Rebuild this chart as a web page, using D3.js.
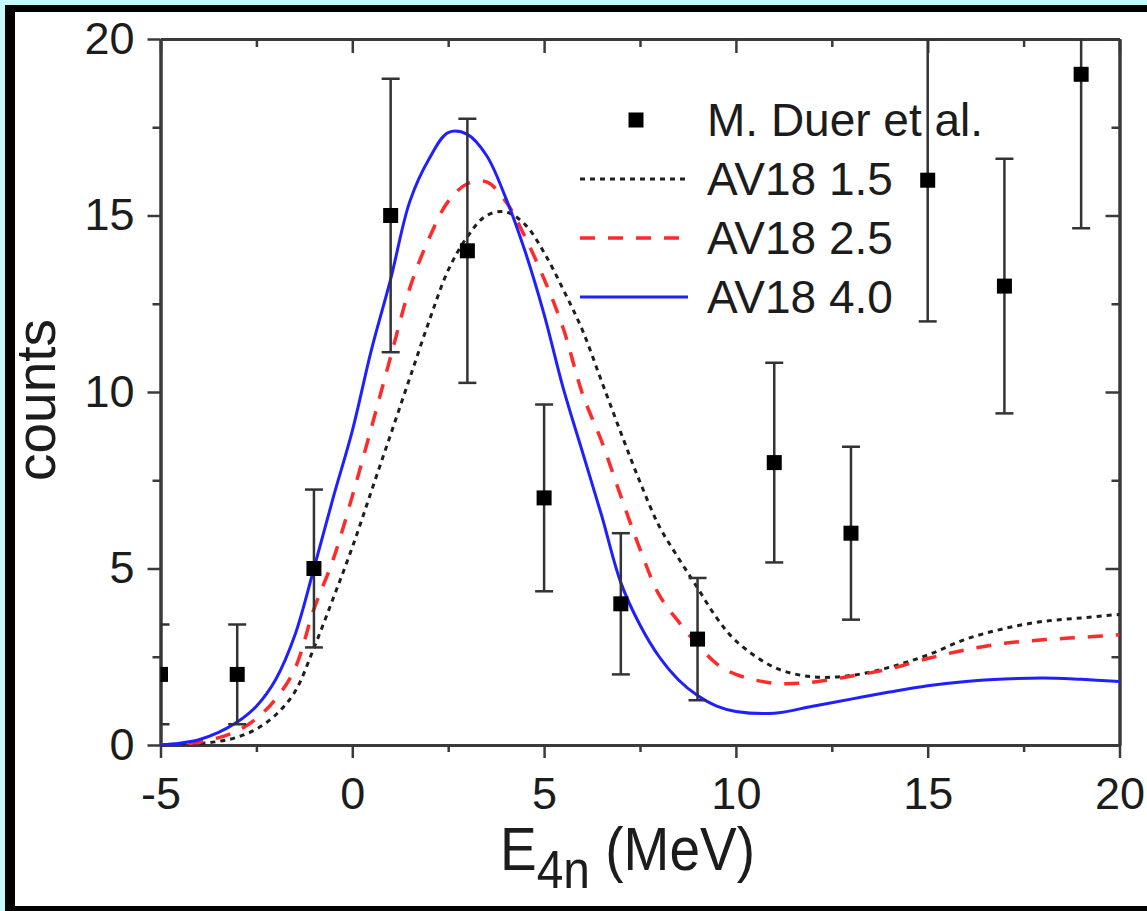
<!DOCTYPE html>
<html>
<head>
<meta charset="utf-8">
<script src="https://cdn.jsdelivr.net/npm/d3@7"></script>
<style>
  html, body { margin: 0; padding: 0; background: #c6f9fb; }
  svg { display: block; }
  text { font-family: "Liberation Sans", Arial, Helvetica, sans-serif; fill: #1c1c1c; }
</style>
</head>
<body>
<svg id="chart" width="1147" height="911"></svg>
<script>
// Measured counts per 2 MeV bin (Poisson errors, sqrt(N))
const binCenters = [-5, -3, -1, 1, 3, 5, 7, 9, 11, 13, 15, 17, 19];
const binCounts  = [2, 2, 5, 15, 14, 7, 4, 3, 8, 6, 16, 13, 19];

// Calculated spectra, AV18 with different source sizes
const energyGrid = [-5, -4.5, -4, -3.5, -3, -2.5, -2, -1.5, -1, -0.5, 0, 0.5, 1, 1.5, 2, 2.5, 3, 3.5, 4, 4.5,
                    5, 5.5, 6, 6.5, 7, 7.5, 8, 8.5, 9, 9.5, 10, 11, 12, 13, 14, 15, 16, 17, 18, 19, 20];
const av18_15 = [0, 0.01, 0.04, 0.1, 0.22, 0.45, 0.85, 1.5, 2.75, 4.15, 5.6, 7.2, 8.8, 10.4, 12.0, 13.45, 14.4, 15.0, 15.1, 14.75,
                 13.95, 12.9, 11.75, 10.3, 8.85, 7.45, 6.2, 5.3, 4.45, 3.6, 2.95, 2.2, 1.93, 1.97, 2.2, 2.55, 3.0, 3.3, 3.5, 3.6, 3.7];
const av18_25 = [0, 0.02, 0.08, 0.2, 0.4, 0.75, 1.3, 2.15, 3.85, 5.25, 7.05, 9.0, 11.0, 12.95, 14.35, 15.4, 15.9, 15.95, 15.4, 14.4,
                 13.2, 11.8, 9.95, 8.6, 7.05, 5.55, 4.25, 3.5, 2.85, 2.3, 2.0, 1.75, 1.78, 1.95, 2.15, 2.45, 2.7, 2.88, 2.98, 3.05, 3.12];
const av18_40 = [0, 0.05, 0.15, 0.35, 0.65, 1.1, 1.85, 3.1, 5.0, 7.0, 8.9, 11.2, 13.2, 15.4, 16.6, 17.35, 17.3, 16.7, 15.5, 14.0,
                 12.2, 10.1, 8.3, 6.5, 4.6, 3.4, 2.5, 1.85, 1.4, 1.1, 0.95, 0.9, 1.1, 1.3, 1.5, 1.68, 1.8, 1.87, 1.9, 1.86, 1.8];

const xMajorTicks = [-5, 0, 5, 10, 15, 20];
const xMinorTicks = [-2.5, 2.5, 7.5, 12.5, 17.5];
const yMajorTicks = [0, 5, 10, 15, 20];
const yMinorTicks = [2.5, 7.5, 12.5, 17.5];

const legendLabels = ["M. Duer et al.", "AV18 1.5", "AV18 2.5", "AV18 4.0"];

const svg = d3.select("#chart");

// page frame
svg.append("rect").attr("x", 5).attr("y", 5).attr("width", 1142).attr("height", 906).attr("fill", "#000");
svg.append("rect").attr("x", 15).attr("y", 12).attr("width", 1132).attr("height", 894).attr("fill", "#fff");

const plotL = 160.5, plotR = 1119.5, plotT = 39, plotB = 745;
const x = d3.scaleLinear().domain([-5, 20]).range([plotL, plotR]);
const y = d3.scaleLinear().domain([0, 20]).range([plotB, plotT]);

svg.append("defs").append("clipPath").attr("id", "plotClip")
  .append("rect").attr("x", plotL).attr("y", plotT).attr("width", plotR - plotL).attr("height", plotB - plotT);

const axisColor = "#3a3a3a";
const fmt = d => String(d);

function styleAxis(g) {
  g.selectAll("path.domain").attr("stroke", axisColor).attr("stroke-width", 3);
  g.selectAll(".tick line").attr("stroke", axisColor).attr("stroke-width", 2.5);
  g.selectAll(".tick text").attr("font-size", 45).attr("fill", "#1c1c1c")
    .attr("font-family", '"Liberation Sans", Arial, Helvetica, sans-serif');
}

// minor ticks
svg.append("g").attr("transform", `translate(0,${plotB})`)
  .call(d3.axisBottom(x).tickValues(xMinorTicks).tickSize(7).tickSizeOuter(0).tickFormat(""))
  .call(styleAxis);
svg.append("g").attr("transform", `translate(0,${plotT})`)
  .call(d3.axisTop(x).tickValues(xMinorTicks).tickSize(-8).tickSizeOuter(0).tickFormat(""))
  .call(styleAxis);
svg.append("g").attr("transform", `translate(${plotL},0)`)
  .call(d3.axisLeft(y).tickValues(yMinorTicks).tickSize(8).tickSizeOuter(0).tickFormat(""))
  .call(styleAxis);
svg.append("g").attr("transform", `translate(${plotR},0)`)
  .call(d3.axisRight(y).tickValues(yMinorTicks).tickSize(-8).tickSizeOuter(0).tickFormat(""))
  .call(styleAxis);

// major ticks
svg.append("g").attr("transform", `translate(0,${plotB})`)
  .call(d3.axisBottom(x).tickValues(xMajorTicks).tickSize(13).tickPadding(19).tickSizeOuter(0).tickFormat(fmt))
  .call(styleAxis);
svg.append("g").attr("transform", `translate(0,${plotT})`)
  .call(d3.axisTop(x).tickValues(xMajorTicks).tickSize(-14).tickSizeOuter(0).tickFormat(""))
  .call(styleAxis);
svg.append("g").attr("transform", `translate(${plotL},0)`)
  .call(d3.axisLeft(y).tickValues(yMajorTicks).tickSize(13).tickPadding(13).tickSizeOuter(0).tickFormat(fmt))
  .call(styleAxis);
svg.append("g").attr("transform", `translate(${plotR},0)`)
  .call(d3.axisRight(y).tickValues(yMajorTicks).tickSize(-14).tickSizeOuter(0).tickFormat(""))
  .call(styleAxis);

// model curves
const curves = [
  { values: av18_15, color: "#1e1e1e", width: 3, dash: "5,5" },
  { values: av18_25, color: "#ff2a2a", width: 3.5, dash: "15,13" },
  { values: av18_40, color: "#1f1fff", width: 3, dash: null }
];
const line = d3.line().x(d => x(d[0])).y(d => y(d[1])).curve(d3.curveCatmullRom.alpha(0.5));
const plot = svg.append("g").attr("clip-path", "url(#plotClip)");
curves.forEach(c => {
  plot.append("path")
    .datum(energyGrid.map((e, i) => [e, c.values[i]]))
    .attr("d", line)
    .attr("fill", "none")
    .attr("stroke", c.color)
    .attr("stroke-width", c.width)
    .attr("stroke-dasharray", c.dash);
});

// data with error bars
const pts = binCenters.map((e, i) => ({ e, n: binCounts[i], err: Math.sqrt(binCounts[i]) }));
const capHalf = 9, sq = 15;
const eb = plot.append("g").attr("stroke", "#333").attr("stroke-width", 2.5);
pts.forEach(p => {
  eb.append("line").attr("x1", x(p.e)).attr("x2", x(p.e)).attr("y1", y(p.n - p.err)).attr("y2", y(p.n + p.err));
  eb.append("line").attr("x1", x(p.e) - capHalf).attr("x2", x(p.e) + capHalf).attr("y1", y(p.n - p.err)).attr("y2", y(p.n - p.err));
  eb.append("line").attr("x1", x(p.e) - capHalf).attr("x2", x(p.e) + capHalf).attr("y1", y(p.n + p.err)).attr("y2", y(p.n + p.err));
});
plot.append("g").selectAll("rect").data(pts).join("rect")
  .attr("x", d => x(d.e) - sq / 2).attr("y", d => y(d.n) - sq / 2)
  .attr("width", sq).attr("height", sq).attr("fill", "#000");

// axis titles
svg.append("text")
  .attr("transform", "translate(55,400) rotate(-90)")
  .attr("text-anchor", "middle")
  .attr("font-size", 55)
  .text("counts");

const xt = svg.append("text")
  .attr("x", 500).attr("y", 870)
  .attr("font-size", 62)
  .attr("textLength", 255)
  .attr("lengthAdjust", "spacingAndGlyphs");
xt.append("tspan").text("E");
xt.append("tspan").attr("dy", 18).attr("font-size", 54).text("4n");
xt.append("tspan").attr("dy", -18).text(" (MeV)");

// legend
const legRows = [120, 179, 238, 297];
const leg = svg.append("g");
leg.append("rect").attr("x", 636 - sq / 2).attr("y", legRows[0] - sq / 2).attr("width", sq).attr("height", sq).attr("fill", "#000");
curves.forEach((c, i) => {
  leg.append("line")
    .attr("x1", 580).attr("x2", 688)
    .attr("y1", legRows[i + 1]).attr("y2", legRows[i + 1])
    .attr("stroke", c.color).attr("stroke-width", c.width)
    .attr("stroke-dasharray", c.dash);
});
legendLabels.forEach((t, i) => {
  leg.append("text").attr("x", 707).attr("y", legRows[i] + 16).attr("font-size", 46).text(t);
});
</script>
</body>
</html>
